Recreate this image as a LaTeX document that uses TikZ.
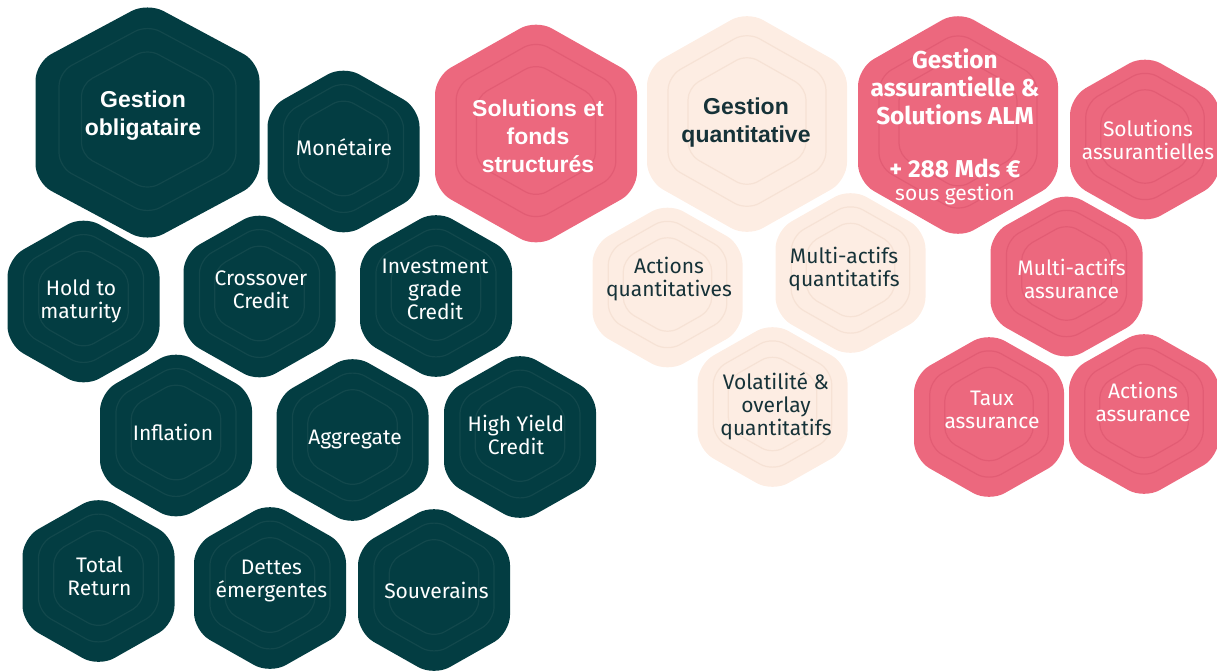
\documentclass[tikz,border=0pt]{standalone}
\usepackage{fontspec}
\setmainfont{Fira Sans}
\newfontfamily\arialfont{Liberation Sans}
\usepackage{tikz}

\definecolor{tealfill}{RGB}{3,61,66}
\definecolor{tealline}{RGB}{18,72,76}
\definecolor{pinkfill}{RGB}{236,104,126}
\definecolor{pinkline}{RGB}{226,92,116}
\definecolor{creamfill}{RGB}{253,237,227}
\definecolor{creamline}{RGB}{246,226,213}
\definecolor{darktext}{RGB}{22,50,56}

% rounded hexagon with two inner outlines: centre, half width, half height, palette
\newcommand{\hexcell}[4]{%
  \fill[#4fill,rounded corners=9pt,shift={#1}] (0,-#3) -- (#2,-#3/2) -- (#2,#3/2) -- (0,#3) -- (-#2,#3/2) -- (-#2,-#3/2) -- cycle;
  \draw[#4line,line width=0.6pt,rounded corners=7pt,shift={#1},yshift=1.5pt,scale=0.79] (0,-#3) -- (#2,-#3/2) -- (#2,#3/2) -- (0,#3) -- (-#2,#3/2) -- (-#2,-#3/2) -- cycle;
  \draw[#4line,line width=0.6pt,rounded corners=6pt,shift={#1},yshift=1.5pt,scale=0.59] (0,-#3) -- (#2,-#3/2) -- (#2,#3/2) -- (0,#3) -- (-#2,#3/2) -- (-#2,-#3/2) -- cycle;
}

\tikzset{
  lbl/.style={align=center,text=white,font=\fontsize{10.5}{11.5}\selectfont},
  lbldark/.style={lbl,text=darktext},
  ttl/.style={align=center,text=white,font=\arialfont\bfseries\fontsize{11.5}{14}\selectfont},
  ttldark/.style={ttl,text=darktext},
  ttlalm/.style={align=center,text=white,font=\bfseries\fontsize{12.2}{14}\selectfont},
}

\begin{document}
\begin{tikzpicture}[x=0.5pt,y=-0.5pt]
\useasboundingbox (0,0) rectangle (1217,671);

% gestion obligataire
\hexcell{(147.5,122.5)}{112}{120}{teal}
\hexcell{(343.5,151.5)}{76}{86}{teal}
\hexcell{(83.5,301.5)}{76}{86}{teal}
\hexcell{(259.5,296.5)}{76}{86}{teal}
\hexcell{(436,296)}{76}{86}{teal}
\hexcell{(176,435.5)}{76}{86}{teal}
\hexcell{(352.5,440)}{76}{86}{teal}
\hexcell{(520,437)}{76}{86}{teal}
\hexcell{(98.5,581)}{76}{86}{teal}
\hexcell{(270,588)}{76}{86}{teal}
\hexcell{(434,590)}{76}{86}{teal}
\node[ttl] (oblig) at (143,116) {Gestion\\obligataire};
\node[lbl] (mon) at (344,147) {Monétaire};
\node[lbl] (hold) at (81,301.5) {Hold to\\maturity};
\node[lbl] (cross) at (261,289.5) {Crossover\\Credit};
\node[lbl] (invest) at (435,289) {Investment\\grade\\Credit};
\node[lbl] (infl) at (173,432) {Inflation};
\node[lbl] (aggr) at (355,439) {Aggregate};
\node[lbl] (hy) at (516,435) {High Yield\\Credit};
\node[lbl] (total) at (99.5,576.5) {Total\\Return};
\node[lbl] (dettes) at (271.5,581) {Dettes\\émergentes};
\node[lbl] (souv) at (436.5,590) {Souverains};

% solutions et fonds structures
\hexcell{(536,133.5)}{101}{114}{pink}
\node[ttl] (solfs) at (538,136) {Solutions et\\fonds\\structurés};

% gestion quantitative
\hexcell{(747,124)}{100}{113}{cream}
\hexcell{(667.5,287.5)}{75}{85}{cream}
\hexcell{(850.5,273)}{75}{85}{cream}
\hexcell{(772.5,407)}{75}{85}{cream}
\node[ttldark] (gquant) at (746,122.5) {Gestion\\quantitative};
\node[lbldark] (actq) at (669,279) {Actions\\quantitatives};
\node[lbldark] (multq) at (844,269.5) {Multi-actifs\\quantitatifs};
\node[lbldark] (vol) at (776,406.5) {Volatilité \&\\overlay\\quantitatifs};

% gestion assurantielle
\hexcell{(958,125)}{100}{114}{pink}
\hexcell{(1145,139.5)}{75}{85}{pink}
\hexcell{(1066.5,276.5)}{76}{85}{pink}
\hexcell{(989,417)}{75}{85}{pink}
\hexcell{(1144,414)}{75}{85}{pink}
\node[ttlalm] (galm) at (955,87) {Gestion\\assurantielle \&\\Solutions ALM};
\node[lbl] (galmaum) at (955,182) {\textbf{\fontsize{12.2}{14}\selectfont + 288 Mds €}\\sous gestion};
\node[lbl] (solass) at (1148,139.5) {Solutions\\assurantielles};
\node[lbl] (multa) at (1071.5,278.5) {Multi-actifs\\assurance};
\node[lbl] (taux) at (992,410) {Taux\\assurance};
\node[lbl] (acta) at (1143,401.5) {Actions\\assurance};
\end{tikzpicture}
\end{document}
